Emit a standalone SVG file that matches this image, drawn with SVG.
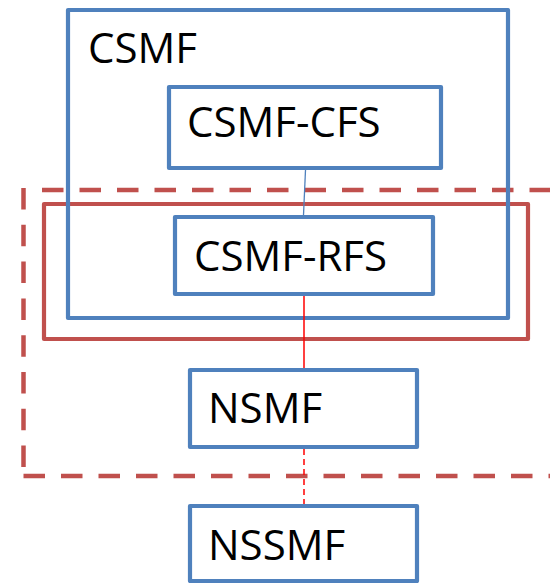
<svg xmlns="http://www.w3.org/2000/svg" width="550" height="583" viewBox="0 0 550 583">
<style>
.blue{fill:none;stroke:#4F81BD;stroke-width:4.2;stroke-linejoin:round}
.redbox{fill:none;stroke:#C0504D;stroke-width:4.2;stroke-linejoin:round}
.reddash{fill:none;stroke:#C0504D;stroke-width:4.5;stroke-dasharray:21.5 16}
.lbl{font-family:"Open Sans","Liberation Sans",sans-serif;font-size:42px;fill:#000}
</style>
<rect width="550" height="583" fill="#fff"/>
<g id="scope-dashed">
<line class="reddash" x1="42" y1="190" x2="560" y2="190"/>
<line class="reddash" x1="23.5" y1="188" x2="23.5" y2="477" style="stroke-dasharray:21.5 15.3"/>
<line class="reddash" x1="23.5" y1="476" x2="560" y2="476"/>
</g>
<g id="scope-red">
<rect class="redbox" x="44" y="204" width="484" height="135"/>
</g>
<g id="CSMF">
<rect class="blue" x="68" y="10" width="440" height="308"/>
<text class="lbl" x="88" y="63">CSMF</text>
</g>
<g id="CSMF-CFS">
<rect class="blue" x="169" y="87" width="272" height="81"/>
<text class="lbl" x="187" y="137">CSMF-CFS</text>
</g>
<g id="CSMF-RFS">
<rect class="blue" x="175" y="217" width="258" height="77"/>
<text class="lbl" x="194" y="271">CSMF-RFS</text>
</g>
<g id="NSMF">
<rect class="blue" x="190" y="370" width="227" height="77"/>
<text class="lbl" x="208" y="423">NSMF</text>
</g>
<g id="NSSMF">
<rect class="blue" x="190" y="506" width="227" height="75"/>
<text class="lbl" x="208" y="560">NSSMF</text>
</g>
<g id="connectors">
<line x1="305.5" y1="170" x2="303.5" y2="215" stroke="#4F81BD" stroke-width="1.3"/>
<line x1="304" y1="296" x2="304" y2="368" stroke="#FF0000" stroke-width="1.5"/>
<line x1="304" y1="449" x2="304" y2="504" stroke="#FF0000" stroke-width="1.5" stroke-dasharray="6 4"/>
</g>
</svg>
